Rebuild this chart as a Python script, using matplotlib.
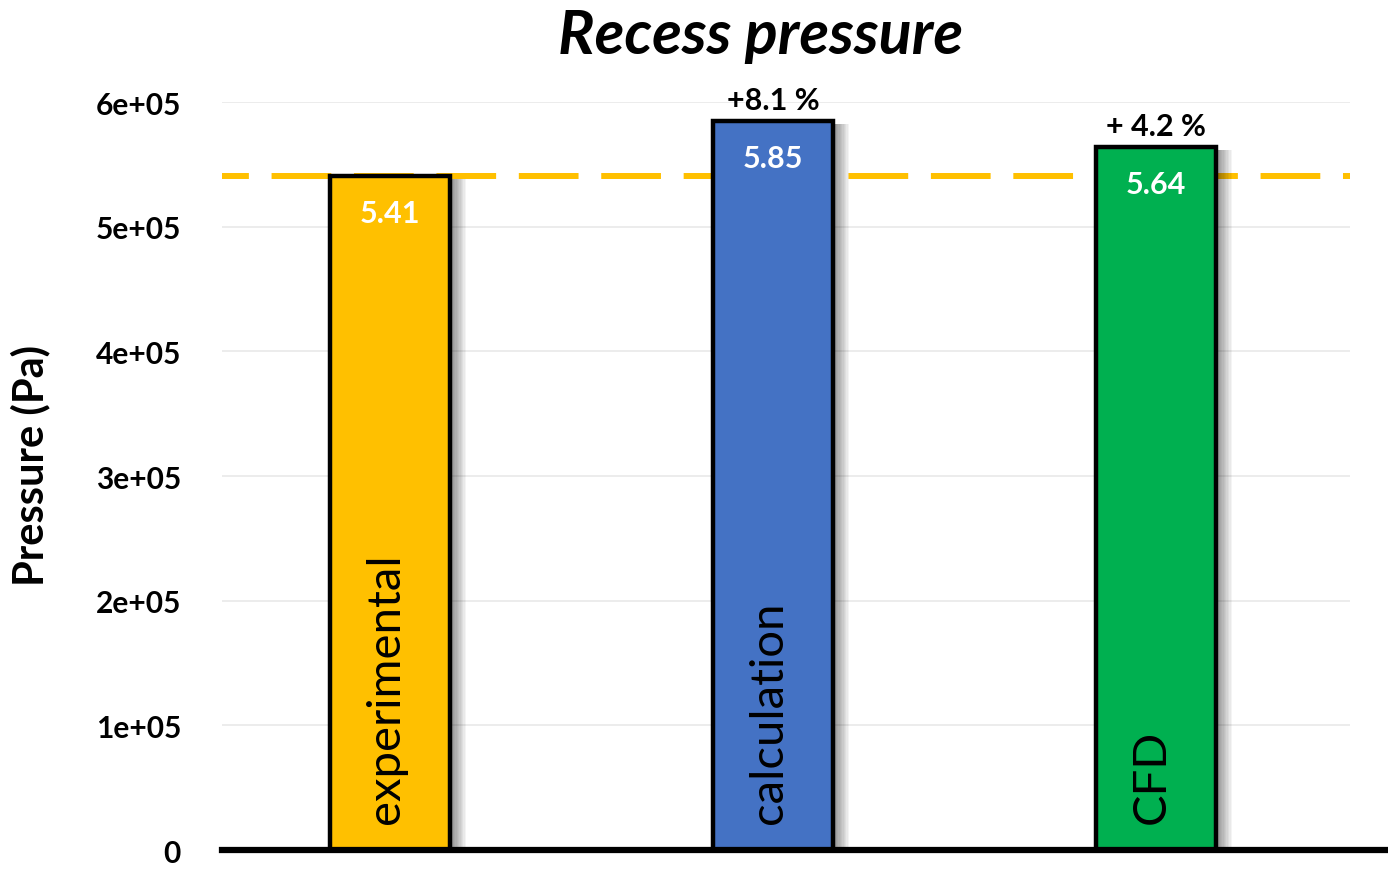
import matplotlib
matplotlib.use("Agg")
import matplotlib.pyplot as plt
from matplotlib.patches import Rectangle

plt.rcParams['font.family'] = ['Lato', 'DejaVu Sans']

# Data
categories = ["experimental", "calculation", "CFD"]
pressure_pa = [5.41e5, 5.85e5, 5.64e5]
value_labels = ["5.41", "5.85", "5.64"]
deviation_labels = ["", "+8.1 %", "+ 4.2 %"]
bar_colors = ["#FFC000", "#4472C4", "#00B050"]
reference_pa = pressure_pa[0]
yticks = [0, 1e5, 2e5, 3e5, 4e5, 5e5, 6e5]
ytick_labels = ["0", "1e+05", "2e+05", "3e+05", "4e+05", "5e+05", "6e+05"]

fig = plt.figure(figsize=(13.88, 8.70), dpi=100)
ax = fig.add_axes([0.1599, 0.0218, 0.9726 - 0.1599, 0.8816 - 0.0218])

x = list(range(len(categories)))
bar_w = 0.313

ax.set_xlim(-0.439, 2.507)
ax.set_ylim(0, 6e5)

# light horizontal grid
for t in yticks[1:]:
    ax.axhline(t, color="#EBEBEB", lw=1.3, zorder=0)

# dashed reference line at the experimental value
ax.axhline(reference_pa, color="#FFC000", lw=4.3, zorder=1,
           linestyle=(5.5, (10, 3.8)))

# soft shadow to the right of each bar
for xi, h in zip(x, pressure_pa):
    right = xi + bar_w / 2
    n = 12
    for k in range(n):
        w = 0.042 * (k + 1) / n
        ax.add_patch(Rectangle((right, 0), w, h * 0.995, facecolor="black",
                               edgecolor="none", alpha=0.045, zorder=1.5))

bars = ax.bar(x, pressure_pa, width=bar_w, color=bar_colors,
              edgecolor="black", linewidth=3.2, zorder=2)

for b, cat, val, dev in zip(bars, categories, value_labels, deviation_labels):
    cx = b.get_x() + b.get_width() / 2
    top = b.get_height()
    ax.annotate(val, (cx, top), xytext=(0, -27), textcoords="offset points",
                ha="center", va="center", color="white", fontsize=22,
                fontweight="bold", zorder=5)
    if dev:
        ax.annotate(dev, (cx, top), xytext=(0, 15), textcoords="offset points",
                    ha="center", va="center", color="black", fontsize=22,
                    fontweight="bold", zorder=5, annotation_clip=False)
    ax.text(cx - 0.01, 0.22e5, cat, rotation=90, rotation_mode="anchor",
            ha="left", va="center", fontsize=34, color="black", zorder=5)

ax.set_yticks(yticks)
ax.set_yticklabels(ytick_labels, fontsize=21.5, fontweight="bold")
ax.tick_params(axis="y", length=0, pad=29.5)
ax.set_xticks([])

for s in ["top", "right", "left", "bottom"]:
    ax.spines[s].set_visible(False)

# baseline extending to the right edge
ax.axhline(0, xmin=0, xmax=1.04, color="black", lw=4.5, zorder=4, clip_on=False)

fig.text(0.548, 0.959, "Recess pressure", ha="center", va="center",
         fontsize=44, fontweight="bold", style="italic")
fig.text(0.0216, 0.4655, "Pressure (Pa)", rotation=90, ha="center",
         va="center", fontsize=30, fontweight="bold")

fig.savefig("out.png", dpi=100)
